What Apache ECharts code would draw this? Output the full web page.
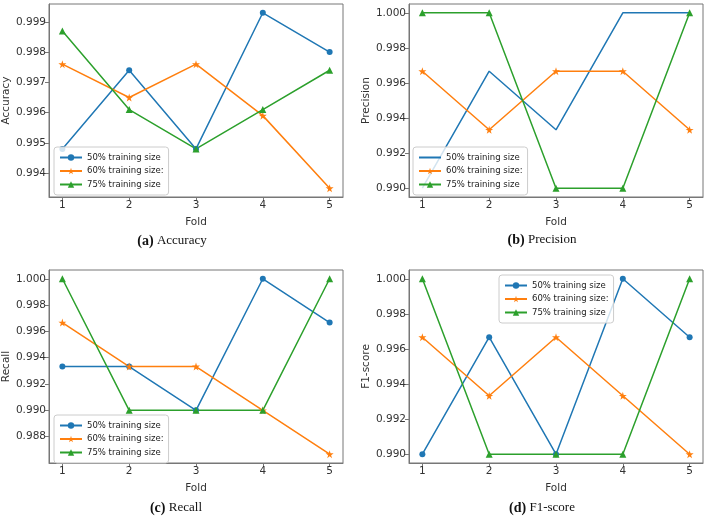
<!DOCTYPE html>
<html>
<head>
<meta charset="utf-8">
<script src="https://cdn.jsdelivr.net/npm/echarts@6/dist/echarts.min.js"></script>
<style>
  html, body { margin: 0; padding: 0; background: #fff; }
  #main { width: 707px; height: 516px; }
</style>
</head>
<body>
<div id="main"></div>
<script>
// data
const folds = [1, 2, 3, 4, 5];
const seriesLabels = ['50% training size', '60% training size:', '75% training size'];

const accuracy50 = [0.9948, 0.9974, 0.9948, 0.9993, 0.9980];
const accuracy60 = [0.9976, 0.9965, 0.9976, 0.9959, 0.9935];
const accuracy75 = [0.9987, 0.9961, 0.9948, 0.9961, 0.9974];

const precision50 = [0.9900, 0.99667, 0.99333, 1.0000, 1.0000];
const precision60 = [0.99667, 0.99333, 0.99667, 0.99667, 0.99333];
const precision75 = [1.0000, 1.0000, 0.9900, 0.9900, 1.0000];

const recall50 = [0.99333, 0.99333, 0.9900, 1.0000, 0.99667];
const recall60 = [0.99667, 0.99333, 0.99333, 0.9900, 0.98667];
const recall75 = [1.0000, 0.9900, 0.9900, 0.9900, 1.0000];

const f1score50 = [0.9900, 0.99667, 0.9900, 1.0000, 0.99667];
const f1score60 = [0.99667, 0.99333, 0.99667, 0.99333, 0.9900];
const f1score75 = [1.0000, 0.9900, 0.9900, 0.9900, 1.0000];

const accuracyTicks = [0.994, 0.995, 0.996, 0.997, 0.998, 0.999];
const precisionTicks = [0.990, 0.992, 0.994, 0.996, 0.998, 1.000];
const recallTicks = [0.988, 0.990, 0.992, 0.994, 0.996, 0.998, 1.000];
const f1scoreTicks = [0.990, 0.992, 0.994, 0.996, 0.998, 1.000];

const colors = ['#1f77b4', '#ff7f0e', '#2ca02c'];
const starPath = 'path://M50,0 L61,35 L98,35 L68,57 L79,91 L50,70 L21,91 L32,57 L2,35 L39,35 Z';
const symbols = ['circle', starPath, 'triangle'];
const symbolSizes = [6, 8, 7];

const panels = [
  { tag: '(a)', caption: 'Accuracy', yName: 'Accuracy', data: [accuracy50, accuracy60, accuracy75],
    ticks: accuracyTicks, yMin: 0.99321, yMax: 0.99959,
    grid: { left: 49, top: 4 }, legend: { left: 54, top: 147 }, capX: 172, capY: 241, noBlueMarker: false },
  { tag: '(b)', caption: 'Precision', yName: 'Precision', data: [precision50, precision60, precision75],
    ticks: precisionTicks, yMin: 0.9895, yMax: 1.0005,
    grid: { left: 409, top: 4 }, legend: { left: 413, top: 147 }, capX: 542, capY: 240, noBlueMarker: true },
  { tag: '(c)', caption: 'Recall', yName: 'Recall', data: [recall50, recall60, recall75],
    ticks: recallTicks, yMin: 0.98600, yMax: 1.000667,
    grid: { left: 49, top: 270 }, legend: { left: 54, top: 415 }, capX: 176, capY: 508, noBlueMarker: false },
  { tag: '(d)', caption: 'F1-score', yName: 'F1-score', data: [f1score50, f1score60, f1score75],
    ticks: f1scoreTicks, yMin: 0.9895, yMax: 1.0005,
    grid: { left: 409, top: 270 }, legend: { left: 499, top: 275 }, capX: 542, capY: 508, noBlueMarker: false }
];

const frameColor = '#777';
const textColor = '#333';

const grids = [], xAxes = [], yAxes = [], series = [], legends = [], graphics = [];

panels.forEach((p, i) => {
  grids.push({
    left: p.grid.left, top: p.grid.top, width: 294, height: 193,
    show: true, borderColor: frameColor, borderWidth: 1, backgroundColor: 'transparent'
  });
  xAxes.push({
    type: 'value', gridIndex: i, min: 0.8, max: 5.2,
    name: 'Fold', nameLocation: 'middle', nameGap: 20,
    nameTextStyle: { fontSize: 10.5, color: textColor },
    axisLine: { show: true, lineStyle: { color: frameColor } },
    axisTick: { show: true, customValues: folds, length: 4, lineStyle: { color: frameColor } },
    axisLabel: { customValues: folds, fontSize: 10.5, color: textColor, margin: 3 },
    splitLine: { show: false }
  });
  yAxes.push({
    type: 'value', gridIndex: i, min: p.yMin, max: p.yMax,
    name: p.yName, nameLocation: 'middle', nameGap: 37,
    nameTextStyle: { fontSize: 10.5, color: textColor },
    axisLine: { show: true, lineStyle: { color: frameColor } },
    axisTick: { show: true, customValues: p.ticks, length: 4, lineStyle: { color: frameColor } },
    axisLabel: { customValues: p.ticks, fontSize: 10.5, color: textColor, margin: 3,
      formatter: v => v.toFixed(3) },
    splitLine: { show: false }
  });
  const legendData = [];
  p.data.forEach((vals, k) => {
    const name = i + '|' + seriesLabels[k];
    const noMarker = p.noBlueMarker && k === 0;
    // plain line in the legend when the series has no markers
    legendData.push(noMarker
      ? { name: name, itemStyle: { color: 'rgba(0,0,0,0)', borderColor: 'rgba(0,0,0,0)', borderWidth: 0 } }
      : name);
    series.push({
      type: 'line', name: name, xAxisIndex: i, yAxisIndex: i,
      data: folds.map((f, j) => [f, vals[j]]),
      symbol: noMarker ? 'none' : symbols[k],
      symbolSize: symbolSizes[k],
      itemStyle: { color: colors[k] },
      lineStyle: { color: colors[k], width: 1.5 },
      animation: false
    });
  });
  legends.push({
    data: legendData, orient: 'vertical', left: p.legend.left, top: p.legend.top,
    itemWidth: 22, itemHeight: 8, itemGap: 4.5, padding: [6, 5, 6, 5],
    borderColor: '#ccc', borderWidth: 1, borderRadius: 3,
    backgroundColor: 'rgba(255,255,255,0.8)',
    selectedMode: false,
    textStyle: { fontSize: 8.5, color: '#222' },
    formatter: n => n.split('|')[1]
  });
  graphics.push({
    type: 'text', x: p.capX, y: p.capY,
    style: {
      text: '{b|' + p.tag + '} {n|' + p.caption + '}',
      textAlign: 'center', textVerticalAlign: 'middle',
      rich: {
        b: { fontFamily: 'Liberation Serif', fontWeight: 'bold', fontSize: 14, fill: '#111' },
        n: { fontFamily: 'Liberation Serif', fontSize: 13, fill: '#111' }
      }
    }
  });
});

const chart = echarts.init(document.getElementById('main'));
chart.setOption({
  animation: false,
  textStyle: { fontFamily: 'DejaVu Sans' },
  grid: grids,
  xAxis: xAxes,
  yAxis: yAxes,
  legend: legends,
  series: series,
  graphic: graphics
});
</script>
</body>
</html>
